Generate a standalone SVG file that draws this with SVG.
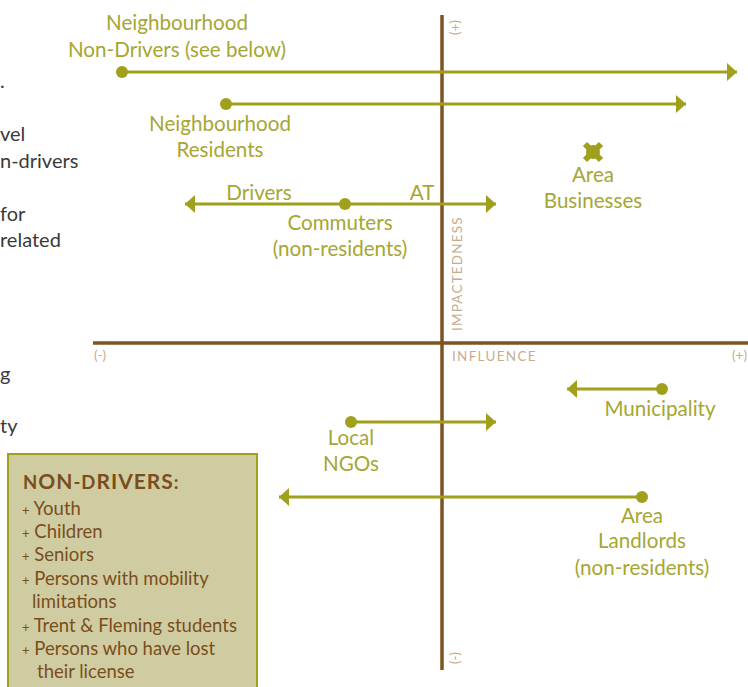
<svg xmlns="http://www.w3.org/2000/svg" width="748" height="687" viewBox="0 0 748 687">
<style>
.lbl{font-family:Lato,"Liberation Sans",sans-serif;font-size:20.6px;fill:#a6a632;text-anchor:middle}
.cut{font-family:Lato,"Liberation Sans",sans-serif;font-size:20px;fill:#3a3a3a}
.ax{font-family:Lato,"Liberation Sans",sans-serif;fill:#c6ad90;font-size:13.5px}
.ln{stroke:#a0a01c;stroke-width:3;fill:none}
.dot{fill:#a0a01c}
.axis{stroke:#7d5320;stroke-width:3.5}
.box{font-family:Lato,"Liberation Sans",sans-serif;fill:#7a4e1c;font-size:18.5px}
</style>
<defs>
<marker id="ah" viewBox="0 0 10 18" refX="10" refY="9" markerWidth="10" markerHeight="18" markerUnits="userSpaceOnUse" orient="auto-start-reverse">
<path d="M0,0 L10,9 L0,18 Z" fill="#a0a01c"/>
</marker>
</defs>
<rect width="748" height="687" fill="#ffffff"/>
<g id="cutoff-text">
<text class="cut" x="0" y="88">.</text>
<text class="cut" x="0" y="141">vel</text>
<text class="cut" x="0" y="168">n-drivers</text>
<text class="cut" x="0" y="221">for</text>
<text class="cut" x="0" y="247">related</text>
<text class="cut" x="0" y="381">g</text>
<text class="cut" x="0" y="433">ty</text>
</g>
<g id="axes">
<line class="axis" x1="442" y1="15" x2="442" y2="670"/>
<line class="axis" x1="93" y1="343" x2="748" y2="343"/>
<text class="ax" transform="translate(451,20) rotate(90)" font-size="15">(+)</text>
<text class="ax" transform="translate(462,331) rotate(-90)" letter-spacing="1.2">IMPACTEDNESS</text>
<text class="ax" x="452" y="361" letter-spacing="1.3">INFLUENCE</text>
<text class="ax" x="94" y="360" font-size="15">(-)</text>
<text class="ax" x="732" y="360" font-size="15">(+)</text>
<text class="ax" transform="translate(451,652) rotate(90)" font-size="15">(-)</text>
</g>
<g id="connectors">
<line class="ln" x1="122" y1="72" x2="737" y2="72" marker-end="url(#ah)"/>
<line class="ln" x1="226" y1="104" x2="686" y2="104" marker-end="url(#ah)"/>
<line class="ln" x1="185" y1="204" x2="496" y2="204" marker-start="url(#ah)" marker-end="url(#ah)"/>
<line class="ln" x1="662" y1="389" x2="567" y2="389" marker-end="url(#ah)"/>
<line class="ln" x1="351" y1="422" x2="496" y2="422" marker-end="url(#ah)"/>
<line class="ln" x1="642" y1="497" x2="279" y2="497" marker-end="url(#ah)"/>
</g>
<g id="neighbourhood-non-drivers">
<circle class="dot" cx="122" cy="72" r="6"/>
<text class="lbl" x="177" y="30">Neighbourhood</text>
<text class="lbl" x="177" y="57">Non-Drivers (see below)</text>
</g>
<g id="neighbourhood-residents">
<circle class="dot" cx="226" cy="104" r="6"/>
<text class="lbl" x="220" y="131">Neighbourhood</text>
<text class="lbl" x="220" y="157">Residents</text>
</g>
<g id="commuters">
<circle class="dot" cx="345" cy="204" r="6"/>
<text class="lbl" x="259" y="200">Drivers</text>
<text class="lbl" x="422" y="200">AT</text>
<text class="lbl" x="340" y="230">Commuters</text>
<text class="lbl" x="340" y="256">(non-residents)</text>
</g>
<g id="area-businesses">
<line x1="585" y1="144" x2="601" y2="160" stroke="#a0a01c" stroke-width="6"/>
<line x1="601" y1="144" x2="585" y2="160" stroke="#a0a01c" stroke-width="6"/>
<circle class="dot" cx="593" cy="152" r="7"/>
<text class="lbl" x="593" y="182">Area</text>
<text class="lbl" x="593" y="208">Businesses</text>
</g>
<g id="municipality">
<circle class="dot" cx="662" cy="389" r="6"/>
<text class="lbl" x="660" y="416">Municipality</text>
</g>
<g id="local-ngos">
<circle class="dot" cx="351" cy="422" r="6"/>
<text class="lbl" x="351" y="445">Local</text>
<text class="lbl" x="351" y="471">NGOs</text>
</g>
<g id="area-landlords">
<circle class="dot" cx="642" cy="497" r="6"/>
<text class="lbl" x="642" y="523">Area</text>
<text class="lbl" x="642" y="548">Landlords</text>
<text class="lbl" x="642" y="575">(non-residents)</text>
</g>
<g id="non-drivers-box">
<rect x="8" y="454" width="249" height="240" fill="#d0cca1" stroke="#a0a01c" stroke-width="2"/>
<text class="box" x="23" y="489" font-weight="bold" font-size="27" letter-spacing="1">N<tspan font-size="21">ON</tspan>-D<tspan font-size="21">RIVERS</tspan>:</text>
<text class="box" x="22" y="515"><tspan font-size="13">+</tspan> Youth</text>
<text class="box" x="22" y="538"><tspan font-size="13">+</tspan> Children</text>
<text class="box" x="22" y="561"><tspan font-size="13">+</tspan> Seniors</text>
<text class="box" x="22" y="585"><tspan font-size="13">+</tspan> Persons with mobility</text>
<text class="box" x="32" y="608">limitations</text>
<text class="box" x="22" y="632"><tspan font-size="13">+</tspan> Trent &amp; Fleming students</text>
<text class="box" x="22" y="655"><tspan font-size="13">+</tspan> Persons who have lost</text>
<text class="box" x="37" y="678">their license</text>
</g>
</svg>
